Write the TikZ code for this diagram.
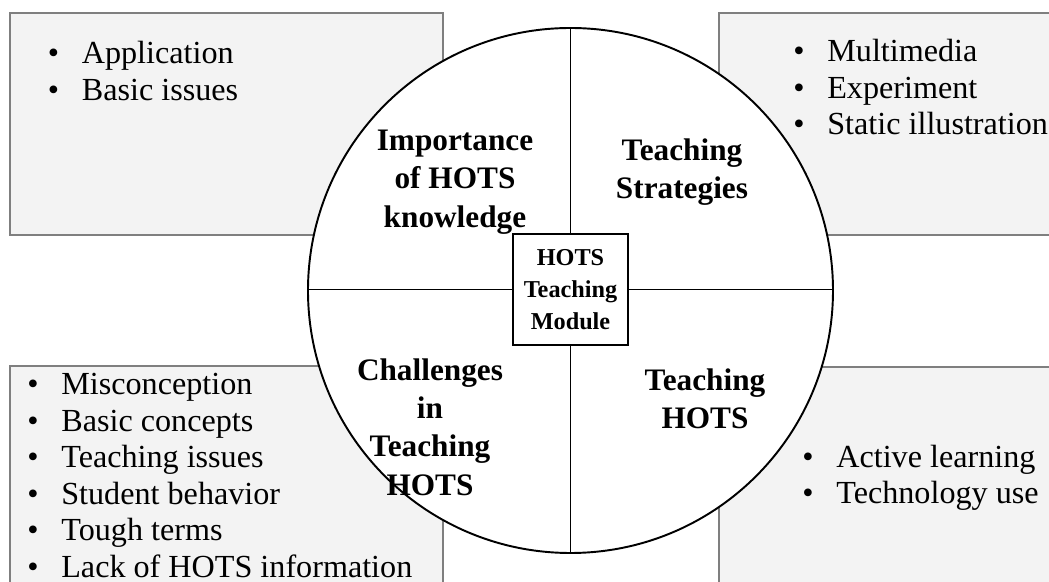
\documentclass[tikz,border=0pt]{standalone}
\usepackage{fontspec}
\setmainfont{Liberation Serif}
\usetikzlibrary{positioning}
\definecolor{panelgray}{HTML}{F3F3F3}
\definecolor{edgegray}{HTML}{7F7F7F}
\tikzset{
	panel/.style={draw=edgegray, fill=panelgray, line width=1.1pt},
	quad/.style={font=\fontsize{17.8}{21.8}\selectfont\bfseries, align=center},
	listitem/.style={font=\fontsize{18.3}{21}\selectfont, anchor=base west, inner sep=0pt},
	rule/.style={line width=1.1pt}
}
\newcommand{\bul}{\makebox[0.68cm][l]{\textbullet}}

\begin{document}
\begin{tikzpicture}
	\useasboundingbox (-11.41,-5.83) rectangle (9.57,5.81);
	\clip (-11.41,-5.83) rectangle (9.57,5.81);
	% corner panels
	\draw [panel] (-11.21,5.55) rectangle (-2.55,1.11);
	\draw [panel] (2.97,5.55) rectangle (9.9,1.11);
	\draw [panel] (-11.21,-1.51) rectangle (-2.55,-6.2);
	\draw [panel] (2.97,-1.53) rectangle (9.9,-6.2);
	% circle and quadrants
	\node [circle, draw, rule, fill=white, minimum size=10.5cm, inner sep=0pt, outer sep=0pt] (disc) at (0,0) {};
	\node [draw, rule, fill=white, minimum width=2.3cm, minimum height=2.22cm, inner sep=0pt, outer sep=0pt, align=center, font=\fontsize{13.8}{18.3}\selectfont\bfseries] (hub) at (0,0.02) {HOTS\\Teaching\\Module};
	\draw [rule] (hub.north) -- (disc.north);
	\draw [rule] (hub.south) -- (disc.south);
	\draw [rule] (hub.west) -- (hub.west -| disc.west);
	\draw [rule] (hub.east) -- (hub.east -| disc.east);
	\node [quad] (imp) at (-2.31,2.17) {Importance\\of HOTS\\knowledge};
	\node [quad] (strat) at (2.23,2.37) {Teaching\\Strategies};
	\node [quad] (chall) at (-2.81,-2.73) {Challenges\\in\\Teaching\\HOTS};
	\node [quad] (teach) at (2.69,-2.17) {Teaching\\HOTS};
	% bullet lists
	\foreach \txt [count=\i from 0] in {Application, Basic issues}
		\node [listitem] (imp-\i) at (-10.46,{4.53-0.73*\i}) {\bul\txt};
	\foreach \txt [count=\i from 0] in {Multimedia, Experiment, Static illustration}
		\node [listitem] (strat-\i) at (4.45,{4.58-0.735*\i}) {\bul\txt};
	\foreach \txt [count=\i from 0] in {Misconception, Basic concepts, Teaching issues, Student behavior, Tough terms, Lack of HOTS information}
		\node [listitem] (chall-\i) at (-10.87,{-2.09-0.73*\i}) {\bul\txt};
	\foreach \txt [count=\i from 0] in {Active learning, Technology use}
		\node [listitem] (teach-\i) at (4.63,{-3.54-0.73*\i}) {\bul\txt};
\end{tikzpicture}
\end{document}
